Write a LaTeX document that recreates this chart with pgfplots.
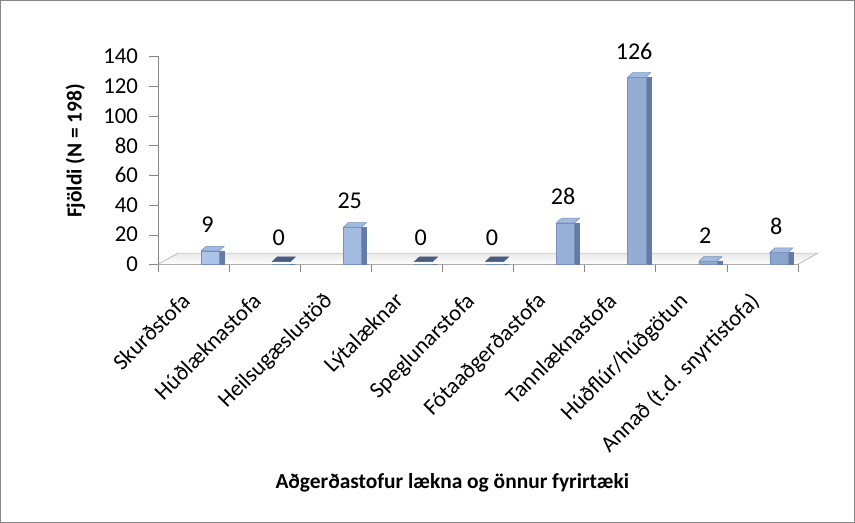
\documentclass[border=0pt]{standalone}
\usepackage{fontspec}
\setmainfont{Carlito}
\usepackage{pgfplots}
\pgfplotsset{compat=1.18}
\definecolor{barleft}{RGB}{172,196,231}
\definecolor{barright}{RGB}{138,164,205}
\definecolor{barside}{RGB}{100,124,165}
\definecolor{baredge}{RGB}{120,145,188}
\definecolor{bartop}{RGB}{160,186,224}
\definecolor{zeroslab}{RGB}{72,92,128}
\definecolor{axisgray}{RGB}{134,134,134}

% top face of a 3-D bar, drawn as a mark at each value
\pgfdeclareplotmark{barcap}{%
    \pgfpathmoveto{\pgfpoint{-6.75pt}{0pt}}%
    \pgfpathlineto{\pgfpoint{6.75pt}{0pt}}%
    \pgfpathlineto{\pgfpoint{10.5pt}{3.5pt}}%
    \pgfpathlineto{\pgfpoint{-3pt}{3.5pt}}%
    \pgfpathclose
    \pgfusepathqfillstroke}

\begin{document}
\begin{tikzpicture}
\begin{axis}[
    at={(0,0)}, anchor=south west,
    scale only axis,
    width=478pt, height=155.25pt,
    xmin=-0.5, xmax=8.5, ymin=0, ymax=140,
    clip=false,
    axis x line*=bottom, axis y line*=left,
    axis line style={-, draw=axisgray},
    every outer x axis line/.append style={-},
    every outer y axis line/.append style={-},
    tick align=outside,
    ytick={0,20,...,140},
    ytick style={draw=axisgray},
    major tick length=6.75pt,
    xtick={0,...,8},
    major x tick style={draw=none},
    minor xtick={-0.5,0.5,...,8.5},
    minor x tick style={draw=axisgray},
    minor tick length=5.5pt,
    xticklabels={Skurðstofa, Húðlæknastofa, Heilsugæslustöð, Lýtalæknar,
                 Speglunarstofa, Fótaaðgerðastofa, Tannlæknastofa,
                 Húðflúr/húðgötun, Annað (t.d. snyrtistofa)},
    xticklabel style={xshift=-10pt, yshift=-13pt, rotate=45, anchor=north east,
                      inner sep=0pt, font=\fontsize{17}{20}\selectfont},
    yticklabel style={anchor=east, inner sep=0pt, xshift=-8pt,
                      font=\fontsize{17}{20}\selectfont},
    /pgf/number format/assume math mode=true,
    xlabel={\textbf{Aðgerðastofur lækna og önnur fyrirtæki}},
    xlabel style={at={(axis description cs:0.46,-1.053)}, anchor=center,
                  font=\fontsize{16}{19}\selectfont},
    ylabel={\textbf{Fjöldi (N = 198)}},
    ylabel style={at={(axis description cs:-0.1287,0.546)}, anchor=center,
                  font=\fontsize{16}{19}\selectfont},
]
% floor of the 3-D chart
\filldraw[draw=gray!55, top color=gray!18, bottom color=white]
    (axis cs:-0.5,0) -- (axis cs:8.5,0) -- (axis cs:8.78,7.5)
    -- (axis cs:-0.22,7.5) -- cycle;
% side faces
\addplot[ybar, bar width=0.254, bar shift=0.305, fill=barside, draw=barside]
    coordinates {(0,9) (1,0) (2,25) (3,0) (4,0) (5,28) (6,126) (7,2) (8,8)};
% front faces
\addplot[ybar, bar width=0.254, bar shift=0.235, left color=barleft,
         right color=barright, draw=baredge,
         nodes near coords,
         nodes near coords style={anchor=center, yshift=19.5pt, xshift=10.5pt,
                                  font=\fontsize{18}{21}\selectfont, text=black}]
    coordinates {(0,9) (1,0) (2,25) (3,0) (4,0) (5,28) (6,126) (7,2) (8,8)};
% top faces
\addplot[only marks, mark=barcap,
         mark options={xshift=12.45pt, fill=bartop, draw=baredge, line width=0.4pt},
         restrict y to domain=0.5:200]
    coordinates {(0,9) (1,0) (2,25) (3,0) (4,0) (5,28) (6,126) (7,2) (8,8)};
% empty categories: flat dark slab on the floor
\addplot[only marks, mark=barcap,
         mark options={xshift=12.45pt, yshift=2pt, fill=zeroslab, draw=zeroslab},
         restrict y to domain=-1:0.5]
    coordinates {(0,9) (1,0) (2,25) (3,0) (4,0) (5,28) (6,126) (7,2) (8,8)};
\end{axis}
\draw[axisgray] (-117.75pt,-192.75pt) rectangle (520.5pt,197.25pt);
\end{tikzpicture}
\end{document}
